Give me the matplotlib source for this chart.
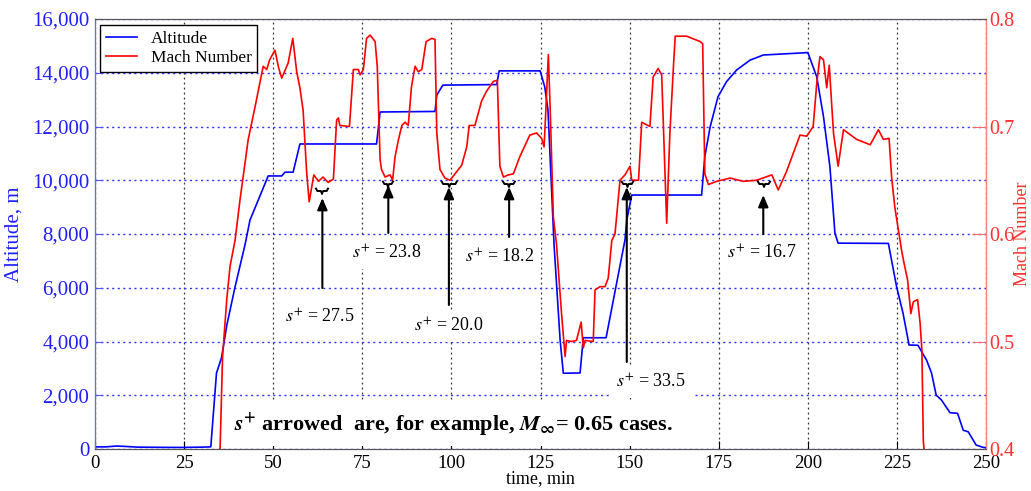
import matplotlib
matplotlib.use('Agg')
import matplotlib.pyplot as plt
from matplotlib.ticker import FuncFormatter

plt.rcParams['font.family'] = ['Liberation Serif', 'DejaVu Serif']
plt.rcParams['mathtext.fontset'] = 'stix'

# altitude trace (time in min, altitude in m)
alt_t = [0, 3, 6, 8, 12, 20, 25, 30, 32.5, 34.1, 35.5, 37, 39.3, 42.1, 43.5, 45.8, 48.6,
         52.4, 53.3, 55.6, 57.5, 79, 80, 95.4, 95.9, 97.6, 112.7, 113.4, 124.9, 126.2,
         127.1, 128.8, 130.5, 131.4, 136.1, 137, 143.4, 148.7, 149.2, 150.6, 170.2, 171.1,
         172.6, 174.8, 177.2, 180, 183.8, 187.5, 200, 202.5, 204.4, 206.2, 207.6, 208.5,
         222.6, 224.9, 226.7, 228.4, 230.9, 233.3, 234.7, 236, 237.5, 239.9, 242, 243.6,
         245, 247.2, 249.2, 250]
alt_m = [80, 80, 110, 100, 70, 60, 60, 70, 80, 2830, 3390, 4610, 6030, 7600, 8520, 9260, 10160,
         10160, 10300, 10300, 11350, 11350, 12540, 12560, 13170, 13540, 13560, 14070, 14070, 13470,
         12610, 7600, 4060, 2820, 2830, 4140, 4140, 7780, 8520, 9450, 9450, 10880,
         11990, 13110, 13670, 14100, 14470, 14660, 14750, 13850, 12360, 10500, 8030, 7660,
         7650, 6040, 5060, 3870, 3860, 3310, 2830, 2010, 1820, 1350, 1330, 700,
         640, 150, 60, 50]

# Mach number trace
mach_t = [35.1, 35.8, 37, 37.9, 39.3, 40.7, 43, 44.9, 47.2, 48.2, 49, 50.5, 51.5, 52.4, 54.2,
          55.5, 56.6, 57.5, 58.4, 59.4, 60.1, 61.4, 62.7, 64, 65.4, 66.9, 67.8, 68.3, 68.7,
          71.4, 72.5, 73.9, 74.4, 75.3, 76.2, 77.2, 78.6, 79.2, 80, 80.4, 81.4, 82.8, 83.5,
          84.2, 85.1, 86.1, 87, 87.9, 88.8, 89.8, 90.7, 91.7, 92.9, 94.5, 95.4, 95.9, 96.8,
          98.2, 99.6, 101, 102.9, 104.3, 105, 106.6, 108.5, 109.9, 111.8, 112.9, 113.6,
          114.6, 116, 117.4, 119.2, 122, 123.9, 125.3, 126, 126.5, 127.2, 127.7, 128.6,
          129.5, 130.9, 131.9, 132.3, 133.7, 135.1, 136.4, 137, 137.5, 139.8, 140.3, 141.7,
          143.1, 144, 145, 145.9, 147.3, 148.7, 150.1, 150.6, 152.5, 153.4, 155.7, 156.6,
          158, 159, 160.4, 161.3, 162.3, 162.8, 166, 169.8, 170.5, 171.1, 172.1, 174.4,
          178.2, 181.9, 185.6, 189.9, 191.7, 194, 197.8, 199.7, 201.5, 202.5, 203.4, 204.4,
          205.3, 206, 207.2, 208.5, 210, 213.7, 217.5, 219.8, 221.2, 222.8, 223.5, 224.4,
          225.4, 226.3, 226.8, 228, 228.9, 229.6, 230.8, 231.5, 232, 232.4, 232.6]
mach = [0.40, 0.486, 0.54, 0.57, 0.594, 0.632, 0.688, 0.718, 0.756, 0.753, 0.762, 0.771, 0.755,
        0.745, 0.759, 0.782, 0.751, 0.736, 0.715, 0.657, 0.63, 0.655, 0.649, 0.653, 0.648,
        0.651, 0.706, 0.708, 0.701, 0.70, 0.753, 0.753, 0.748, 0.753, 0.782, 0.785, 0.779,
        0.756, 0.669, 0.66, 0.653, 0.655, 0.65, 0.672, 0.687, 0.701, 0.704, 0.701, 0.737,
        0.756, 0.751, 0.753, 0.779, 0.782, 0.781, 0.694, 0.66, 0.652, 0.65, 0.656, 0.664,
        0.681, 0.701, 0.701, 0.724, 0.733, 0.742, 0.743, 0.663, 0.653, 0.655, 0.656, 0.672,
        0.692, 0.694, 0.689, 0.681, 0.715, 0.767, 0.718, 0.616, 0.59, 0.526, 0.486, 0.501,
        0.50, 0.501, 0.518, 0.494, 0.501, 0.50, 0.548, 0.551, 0.551, 0.559, 0.594, 0.60,
        0.65, 0.655, 0.663, 0.65, 0.65, 0.704, 0.70, 0.746, 0.754, 0.748, 0.61, 0.694,
        0.756, 0.784, 0.784, 0.779, 0.777, 0.656, 0.646, 0.649, 0.652, 0.649, 0.65, 0.655,
        0.641, 0.658, 0.692, 0.691, 0.70, 0.74, 0.765, 0.762, 0.736, 0.757, 0.694, 0.663,
        0.697, 0.688, 0.683, 0.697, 0.688, 0.689, 0.653, 0.625, 0.604, 0.585, 0.576, 0.557,
        0.526, 0.537, 0.539, 0.517, 0.492, 0.408, 0.40]

# s+ annotations
s_labels = ['27.5', '23.8', '20.0', '18.2', '33.5', '16.7']
arrow_t = [63.8, 82.3, 99.3, 116.2, 149.2, 187.5]
arrow_tip = [9340, 9820, 9750, 9750, 9750, 9450]
arrow_tail = [5990, 8040, 5360, 7890, 3240, 8000]
label_t = [63.1, 81.8, 99.3, 113.6, 156.0, 187.0]
label_alt = [4900, 7290, 4580, 7140, 2490, 7290]
brace_t0 = [62.0, 80.8, 97.3, 114.5, 147.8, 186.0]
brace_t1 = [65.4, 83.6, 101.5, 117.8, 151.0, 189.4]
brace_alt = [9600, 9860, 9860, 9860, 9860, 9860]

fig = plt.figure(figsize=(10.31, 4.91), dpi=100)
ax = fig.add_axes([0.0921, 0.0855, 0.8643, 0.8758])
ax2 = ax.twinx()

l1, = ax.plot(alt_t, alt_m, color='#0000ff', lw=1.2, label='Altitude')
l2, = ax2.plot(mach_t, mach, color='#ff0000', lw=1.2, label='Mach Number')

ax.set_xlim(0, 250)
ax.set_ylim(0, 16000)
ax2.set_ylim(0.4, 0.8)
ax.set_xticks(range(0, 251, 25))
ax.set_yticks(range(0, 16001, 2000))
ax2.set_yticks([0.4, 0.5, 0.6, 0.7, 0.8])
ax.yaxis.set_major_formatter(FuncFormatter(lambda v, p: f'{int(v):,}'))
ax2.yaxis.set_major_formatter(FuncFormatter(lambda v, p: f'{v:.1f}'))

ax.xaxis.grid(True, color='#333333', ls=(0, (1.5, 2.5)), lw=0.9)
ax.yaxis.grid(True, color='#3333ff', ls=(0, (1.5, 2.5)), lw=1.0)

ax.tick_params(axis='x', direction='in', length=6, labelsize=13.5, colors='k', pad=4)
ax.tick_params(axis='y', direction='in', length=6, labelsize=15, colors='#5555ff',
               labelcolor='#2020ff', pad=4)
ax2.tick_params(axis='y', direction='in', length=10, labelsize=14.5, colors='#ff6666',
                labelcolor='#ff3030', pad=2)
for a in (ax, ax2):
    a.spines['top'].set_color('#555555')
    a.spines['bottom'].set_color('#555555')
ax2.spines['left'].set_color('#6666ff')
ax2.spines['right'].set_color('#ff8080')

ax.set_xlabel('time, min', fontsize=13, labelpad=-1)
ax.set_ylabel('Altitude, m', fontsize=15, color='#2020ff', labelpad=6)
ax2.set_ylabel('Mach Number', fontsize=13, color='#ff3030')
ax2.yaxis.set_label_coords(1.0315, 0.5)

# arrows, braces and labels
for i in range(len(s_labels)):
    ax2.annotate('', xy=(arrow_t[i], arrow_tip[i]), xycoords=ax.transData,
                 xytext=(arrow_t[i], arrow_tail[i]), textcoords=ax.transData,
                 arrowprops=dict(arrowstyle='-|>,head_length=0.7,head_width=0.3',
                                 color='k', lw=1.5, shrinkA=0, shrinkB=0), zorder=6)
    t0, t1 = brace_t0[i], brace_t1[i]
    tm = (t0 + t1) / 2
    y = brace_alt[i]
    ax2.plot([t0, t0 + 0.4, tm - 0.3, tm, tm + 0.3, t1 - 0.4, t1],
             [y + 90, y, y, y - 110, y, y, y + 90],
             color='k', lw=1.4, transform=ax.transData, zorder=6)
    ax2.text(label_t[i], label_alt[i], r'$s^{+}$' + ' = ' + s_labels[i],
             transform=ax.transData, fontsize=13, ha='center', va='center', zorder=5,
             bbox=dict(facecolor='white', edgecolor='none', pad=5))

ax2.text(100.7, 930, r'$\mathbfit{s}^{\mathbf{+}}$ arrowed  are, for example, '
         r'$\mathbfit{M}_{\mathbf{\infty}}$= 0.65 cases.',
         transform=ax.transData, fontsize=16, fontweight='bold', ha='center', va='center',
         zorder=5, bbox=dict(facecolor='white', edgecolor='none', pad=6))

leg = ax2.legend(handles=[l1, l2], loc='upper left', bbox_to_anchor=(0.006, 0.985),
                 borderaxespad=0, fontsize=12.5, fancybox=False, framealpha=1,
                 edgecolor='k', handlelength=1.8, borderpad=0.3, labelspacing=0.2)
leg.get_frame().set_linewidth(1.0)

fig.savefig('out.png', dpi=100)
